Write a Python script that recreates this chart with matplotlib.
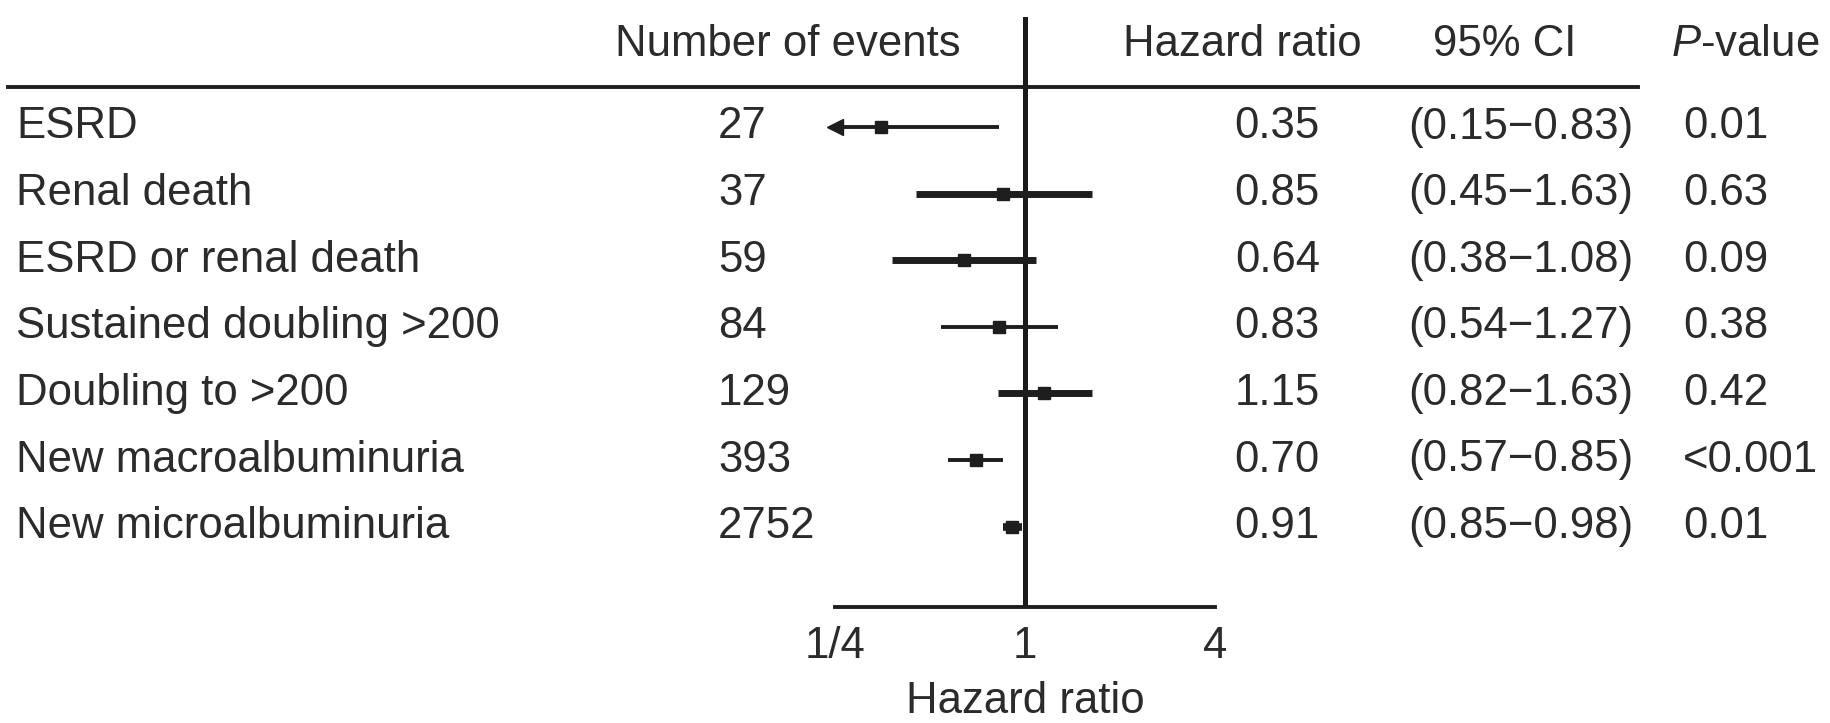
import matplotlib
matplotlib.use("Agg")
from matplotlib import pyplot as plt
from matplotlib import transforms
from matplotlib.lines import Line2D

plt.rcParams['font.family'] = ['Liberation Sans', 'DejaVu Sans']
plt.rcParams['mathtext.fontset'] = 'custom'
plt.rcParams['mathtext.rm'] = 'Liberation Sans'
plt.rcParams['mathtext.it'] = 'Liberation Sans:italic'

# data
outcomes = ["ESRD", "Renal death", "ESRD or renal death", "Sustained doubling >200",
            "Doubling to >200", "New macroalbuminuria", "New microalbuminuria"]
n_events = [27, 37, 59, 84, 129, 393, 2752]
hr = [0.35, 0.85, 0.64, 0.83, 1.15, 0.70, 0.91]
ci_low = [0.15, 0.45, 0.38, 0.54, 0.82, 0.57, 0.85]
ci_high = [0.83, 1.63, 1.08, 1.27, 1.63, 0.85, 0.98]
p_values = ["0.01", "0.63", "0.09", "0.38", "0.42", "<0.001", "0.01"]

# line weight of each CI bar, as drawn in the original
ci_lw = [2.8, 5.0, 5.0, 2.8, 5.0, 2.8, 5.5]

W, H = 1831, 723
ink = '#2b2b2b'
fs = 31.5

fig = plt.figure(figsize=(W / 100, H / 100), dpi=100)
ax = fig.add_axes([835 / W, 1 - 607 / H, 380 / W, 590 / H])

ax.set_xscale('log', base=2)
ax.set_xlim(0.25, 4)
row0, step = 127, 66.6
ax.set_ylim((607 - row0) / step, -(row0 - 17) / step)

for s in ['top', 'left', 'right']:
    ax.spines[s].set_visible(False)
ax.spines['bottom'].set_linewidth(2.8)
ax.spines['bottom'].set_color('#1e1e1e')
ax.set_yticks([])
ax.set_xticks([0.25, 1, 4])
ax.set_xticklabels(['1/4', '1', '4'])
ax.xaxis.set_minor_locator(matplotlib.ticker.NullLocator())
ax.tick_params(axis='x', length=0, pad=14, labelsize=fs, labelcolor=ink)
ax.set_xlabel('Hazard ratio', fontsize=fs, color=ink, labelpad=10)

ax.axvline(1, color='#1a1a1a', lw=3.6)

for i in range(len(outcomes)):
    lo = max(ci_low[i], 0.25)
    ax.plot([lo, ci_high[i]], [i, i], color='#1e1e1e', lw=ci_lw[i],
            solid_capstyle='butt')
    ax.plot(hr[i], i, marker='s', ms=9, color='#1e1e1e')
    if ci_low[i] < 0.25:
        ax.plot(0.25, i, marker='<', ms=11, color='#1e1e1e', clip_on=False)

# table text, x in figure fraction, y on the rows
tr = transforms.blended_transform_factory(fig.transFigure, ax.transData)
for i in range(len(outcomes)):
    fig.text(16 / W, i, outcomes[i], transform=tr, fontsize=fs, color=ink,
             ha='left', va='center')
    fig.text(718 / W, i, str(n_events[i]), transform=tr, fontsize=fs, color=ink,
             ha='left', va='center')
    fig.text(1320 / W, i, "%.2f" % hr[i], transform=tr, fontsize=fs, color=ink,
             ha='right', va='center')
    fig.text(1408 / W, i, "(%.2f\u2212%.2f)" % (ci_low[i], ci_high[i]), transform=tr,
             fontsize=fs, color=ink, ha='left', va='center')
    fig.text(1683 / W, i, p_values[i], transform=tr, fontsize=fs, color=ink,
             ha='left', va='center')

hy = 1 - 45 / H
fig.text(788 / W, hy, "Number of events", fontsize=fs, color=ink, ha='center', va='center')
fig.text(1242 / W, hy, "Hazard ratio", fontsize=fs, color=ink, ha='center', va='center')
fig.text(1505 / W, hy, "95% CI", fontsize=fs, color=ink, ha='center', va='center')
fig.text(1671 / W, hy, "$P$-value", fontsize=fs, color=ink, ha='left', va='center')

fig.add_artist(Line2D([8 / W, 1638 / W], [1 - 87 / H, 1 - 87 / H], color='#1e1e1e', lw=2.8))

plt.savefig("out.png", dpi=100)
